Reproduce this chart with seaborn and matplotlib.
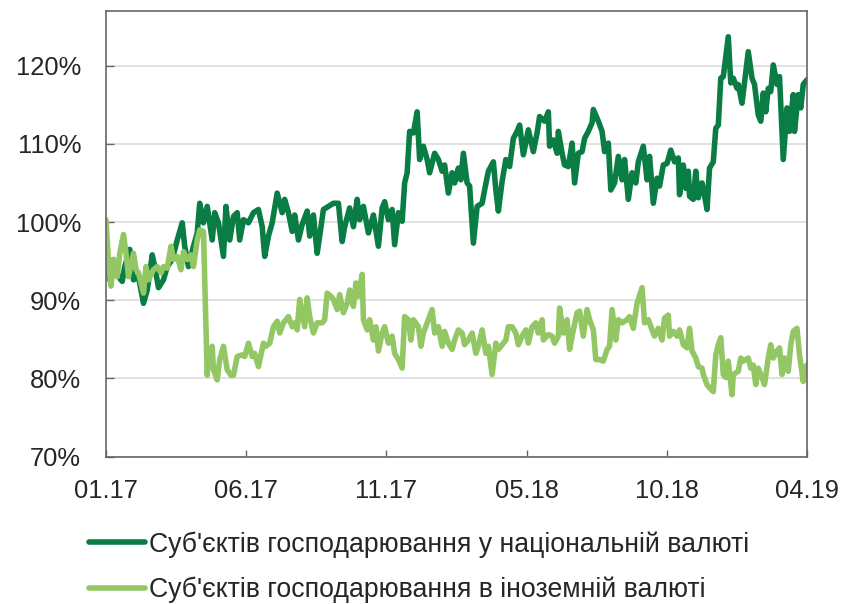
import pandas as pd
import seaborn as sns
import matplotlib.pyplot as plt

# trading-day number since 01.17 and index value, %
nat_day = [0, 3, 6, 10, 13, 15, 19, 22, 26, 30, 33, 37, 39, 42, 46, 49, 53, 57, 61, 63,
           66, 70, 73, 75, 78, 81, 85, 87, 90, 94, 96, 99, 102, 105, 107, 110, 114, 118, 122, 125,
           127, 130, 133, 137, 141, 143, 146, 149, 151, 154, 157, 161, 163, 166, 169, 171, 174, 178, 182, 186,
           189, 191, 195, 198, 201, 203, 206, 210, 214, 218, 221, 223, 226, 229, 231, 234, 237, 239, 241, 243,
           246, 249, 251, 254, 257, 259, 263, 266, 269, 271, 274, 277, 279, 282, 284, 286, 289, 291, 294, 297,
           301, 303, 306, 310, 312, 314, 317, 320, 323, 326, 329, 331, 334, 338, 342, 345, 347, 351, 354, 355,
           358, 361, 362, 365, 367, 370, 373, 375, 378, 381, 383, 386, 389, 390, 394, 397, 399, 402, 404, 407,
           410, 413, 415, 418, 421, 424, 426, 430, 433, 435, 438, 441, 443, 446, 449, 452, 455, 458, 459, 462,
           464, 466, 467, 470, 472, 474, 477, 478, 481, 483, 486, 488, 490, 492, 494, 498, 500, 502, 505, 506,
           509, 512, 514, 517, 519, 522, 524, 526, 528, 530, 532, 534, 537, 539, 541, 542, 545, 547, 550, 551,
           554, 556, 558, 561]
nat_val = [96.0, 92.6, 95.2, 93.0, 92.4, 94.3, 96.5, 92.6, 93.0, 89.6, 91.3, 95.8, 94.3, 91.6, 92.6, 94.3, 95.2, 97.7, 99.9, 96.9,
           94.3, 96.9, 98.6, 102.4, 99.9, 102.0, 97.7, 101.2, 99.9, 95.6, 102.0, 97.7, 100.7, 101.2, 97.7, 100.3, 99.9, 101.2, 101.6, 99.4,
           95.6, 98.2, 99.9, 103.7, 101.2, 102.9, 101.2, 98.8, 100.9, 97.7, 99.7, 101.4, 98.2, 100.9, 96.0, 98.2, 101.6, 102.0, 102.4, 102.4,
           97.5, 99.4, 101.8, 99.4, 102.9, 100.3, 102.0, 98.6, 100.9, 96.9, 101.8, 102.6, 100.3, 101.6, 97.1, 101.2, 100.1, 105.0, 106.3, 111.6,
           111.4, 114.1, 108.0, 109.7, 108.0, 106.3, 108.8, 108.0, 106.5, 107.3, 103.7, 106.3, 105.0, 106.9, 105.4, 108.8, 105.0, 104.6, 97.3, 102.0,
           102.4, 104.1, 106.5, 107.7, 104.1, 101.4, 105.2, 108.0, 107.1, 110.7, 111.6, 112.4, 108.6, 111.8, 109.0, 111.4, 113.5, 112.9, 114.1, 109.7,
           110.5, 108.8, 111.6, 108.8, 107.3, 107.1, 110.1, 105.0, 108.8, 109.0, 110.7, 111.6, 112.7, 114.4, 112.9, 111.6, 109.0, 110.1, 104.1, 105.0,
           108.4, 105.4, 108.0, 102.9, 106.3, 105.0, 107.7, 109.7, 105.4, 108.4, 102.4, 105.6, 104.6, 107.3, 107.5, 109.2, 107.7, 108.2, 103.5, 107.3,
           104.3, 106.5, 103.3, 102.9, 106.5, 103.1, 105.0, 104.3, 101.6, 106.9, 107.7, 112.0, 112.4, 118.4, 118.6, 123.7, 117.8, 118.4, 117.1, 117.6,
           115.2, 119.2, 121.8, 118.4, 117.6, 113.7, 112.9, 116.5, 114.1, 117.1, 116.7, 120.1, 117.6, 118.6, 111.6, 108.0, 114.6, 111.6, 116.3, 111.6,
           116.3, 114.6, 117.6, 118.2]

fx_day = [0, 2, 4, 6, 9, 11, 14, 16, 18, 22, 24, 26, 30, 32, 34, 38, 41, 44, 46, 49,
          52, 54, 57, 60, 62, 65, 68, 70, 73, 75, 78, 79, 81, 82, 85, 86, 89, 91, 94, 97,
          100, 102, 105, 109, 111, 114, 117, 119, 122, 126, 128, 131, 134, 137, 139, 142, 146, 149, 151, 153,
          155, 158, 159, 161, 163, 166, 169, 173, 175, 177, 180, 182, 185, 187, 190, 193, 195, 198, 200, 202,
          205, 206, 209, 211, 214, 216, 218, 221, 223, 226, 229, 231, 234, 237, 239, 242, 244, 246, 250, 252,
          254, 258, 261, 263, 266, 269, 271, 274, 277, 279, 282, 285, 287, 290, 293, 296, 298, 301, 304, 306,
          309, 312, 314, 317, 320, 322, 325, 328, 330, 333, 336, 338, 341, 344, 346, 349, 350, 354, 357, 359,
          362, 363, 366, 369, 371, 374, 377, 379, 382, 385, 387, 390, 392, 395, 398, 401, 403, 405, 408, 410,
          413, 417, 419, 422, 425, 426, 429, 431, 434, 437, 439, 442, 445, 447, 450, 451, 454, 457, 459, 462,
          465, 467, 469, 472, 474, 477, 478, 481, 483, 486, 488, 490, 492, 494, 496, 498, 501, 502, 506, 508,
          510, 514, 516, 518, 520, 522, 525, 527, 530, 532, 534, 537, 539, 541, 543, 546, 548, 550, 553, 555,
          558, 559, 561]
fx_val = [100.3, 94.8, 91.8, 95.2, 93.0, 96.0, 98.4, 96.0, 93.0, 96.0, 93.9, 93.5, 90.9, 94.3, 92.6, 93.9, 94.3, 93.5, 94.3, 94.1,
          96.9, 95.2, 95.6, 93.9, 96.2, 95.2, 95.8, 94.3, 97.7, 99.0, 98.8, 92.6, 80.4, 82.4, 84.1, 81.1, 79.8, 82.4, 84.1, 81.1,
          80.4, 80.4, 82.8, 83.0, 82.8, 84.5, 82.8, 83.2, 81.5, 84.5, 84.1, 84.5, 86.6, 87.3, 85.8, 87.1, 87.9, 86.6, 87.1, 86.2,
          90.1, 87.5, 86.6, 90.3, 87.9, 85.8, 87.1, 87.1, 87.5, 90.9, 90.5, 90.1, 88.8, 90.7, 88.4, 89.6, 91.3, 89.2, 92.2, 90.5,
          93.3, 87.5, 86.2, 87.5, 84.9, 86.6, 83.5, 85.8, 86.6, 84.5, 85.4, 83.2, 82.4, 81.3, 87.9, 87.5, 84.9, 87.5, 86.6, 84.1,
          85.8, 87.5, 88.8, 85.8, 86.6, 84.1, 86.0, 84.5, 83.7, 84.9, 86.2, 85.8, 84.3, 84.9, 85.8, 83.2, 84.1, 86.2, 83.2, 84.1,
          80.5, 84.5, 83.7, 84.3, 84.9, 86.6, 86.6, 85.8, 84.3, 85.4, 86.2, 84.5, 86.6, 87.1, 85.8, 87.5, 84.9, 85.6, 85.4, 84.5,
          85.4, 89.0, 85.8, 87.5, 83.7, 86.2, 88.4, 88.6, 85.4, 88.8, 87.5, 86.2, 82.4, 82.4, 82.2, 83.7, 84.1, 88.8, 84.9, 87.5,
          87.1, 87.5, 87.9, 86.4, 89.6, 90.1, 91.6, 87.1, 87.5, 86.2, 85.4, 86.4, 84.9, 87.7, 88.1, 85.4, 86.0, 85.4, 86.2, 84.3,
          83.9, 86.4, 83.5, 82.6, 81.5, 81.3, 80.5, 79.2, 78.8, 78.3, 83.0, 84.3, 85.2, 80.5, 80.1, 82.2, 77.9, 80.5, 80.9, 82.6,
          82.2, 82.6, 81.3, 81.7, 79.2, 81.3, 80.1, 79.2, 82.6, 84.3, 82.6, 83.5, 83.9, 80.5, 82.6, 80.9, 84.3, 86.0, 86.4, 83.0,
          79.6, 81.3, 81.7]

series_names = ["Суб'єктів господарювання у національній валюті",
                "Суб'єктів господарювання в іноземній валюті"]
tick_labels = ['01.17', '06.17', '11.17', '05.18', '10.18', '04.19']
y_ticks = [70, 80, 90, 100, 110, 120]

df = pd.concat([
    pd.DataFrame({'day': nat_day, 'value': nat_val, 'series': series_names[0]}),
    pd.DataFrame({'day': fx_day, 'value': fx_val, 'series': series_names[1]}),
])

sns.set_style('white')
plt.rcParams['font.family'] = ['Liberation Sans', 'DejaVu Sans']

fig = plt.figure(figsize=(8.43, 6.04), dpi=100)
ax = fig.add_axes([106 / 843, 1 - 456.5 / 604, 701 / 843, 445.5 / 604])

sns.lineplot(data=df, x='day', y='value', hue='series', palette=['#0a7d45', '#92c763'],
             linewidth=4, estimator=None, sort=False, legend=False, ax=ax)

last_day = nat_day[-1]
ax.set_xlim(0, last_day)
ax.set_ylim(70, 127)
ax.set_xticks([last_day * i / 5 for i in range(6)])
ax.set_xticklabels(tick_labels)
ax.set_yticks(y_ticks)
ax.set_yticklabels([f'{v}%' for v in y_ticks])
ax.set_xlabel('')
ax.set_ylabel('')

ax.grid(axis='y', color='#d9d9d9', linewidth=1.1)
ax.set_axisbelow(True)
for sp in ax.spines.values():
    sp.set_color('#666666')
    sp.set_linewidth(1.2)
ax.tick_params(axis='x', direction='in', length=5, width=1, color='#666666',
               labelsize=18.4, pad=16, bottom=True)
ax.tick_params(axis='y', direction='in', length=5.5, width=1, color='#666666',
               labelsize=18.4, pad=18, left=True)

ax.legend(ax.lines, series_names, loc='upper left', bbox_to_anchor=(89 / 843, 1 - 531 / 604),
          bbox_transform=fig.transFigure, frameon=False, fontsize=19.2, borderpad=0,
          handlelength=2.1, handletextpad=0.15, labelspacing=0.72, borderaxespad=0)

fig.savefig('out.png', dpi=100)
